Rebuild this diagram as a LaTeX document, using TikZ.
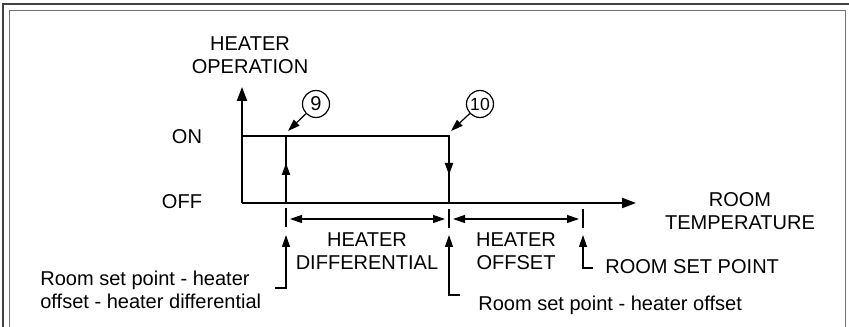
\documentclass[tikz,border=0pt]{standalone}
\usepackage{fontspec}
\setmainfont{Liberation Sans}
\usetikzlibrary{arrows.meta}

\begin{document}
\begin{tikzpicture}[x=0.02cm, y=-0.02cm,
    font=\fontsize{11.4}{13}\selectfont,
    grossa/.style={line width=0.042cm},
    fina/.style={line width=0.024cm},
    pontagrande/.style={-{Triangle[length=0.28cm,width=0.2cm]}},
    ponta/.style={-{Triangle[length=0.24cm,width=0.16cm]}},
    dupla/.style={{Triangle[length=0.24cm,width=0.16cm]}-{Triangle[length=0.24cm,width=0.16cm]}},
    circulo/.style={draw, circle, fina, minimum size=0.54cm, inner sep=0pt},
    texto/.style={inner sep=0pt}]
    \useasboundingbox (0,0) rectangle (849,327);
    % moldura dupla
    \begin{scope}
      \clip (0,0) rectangle (849,327);
      \draw[line width=0.035cm, black!75] (3,4) rectangle (853,340);
      \draw[line width=0.035cm, black!55] (9.5,10.5) rectangle (845.5,340);
    \end{scope}
    % eixos
    \coordinate (O) at (242,203);
    \coordinate (Y) at (242,87);
    \coordinate (X) at (636,203);
    \draw[grossa, pontagrande] (O) -- (Y);
    \draw[grossa, pontagrande] (O) -- (X);
    % pulso
    \coordinate (L) at (242,136);
    \coordinate (S) at (286,203);
    \coordinate (Sa) at (286,136);
    \coordinate (D) at (449,136);
    \coordinate (Da) at (449,203);
    \draw[grossa] (L) -- (D) -- (Da);
    \draw[grossa] (S) -- (Sa);
    \draw[grossa, ponta] (S) -- ++(0,-40);
    \draw[grossa, ponta] (D) -- ++(0,39);
    % numeros
    \node[circulo] (n9) at (316,104) {9};
    \node[circulo] (n10) at (480,104) {\fontsize{10}{10}\selectfont 10};
    \coordinate (p9) at (288,131);
    \coordinate (p10) at (451,131);
    \draw[fina, ponta] (n9) -- (p9);
    \draw[fina, ponta] (n10) -- (p10);
    % cotas
    \coordinate (T1) at (286,208);
    \coordinate (T1b) at (286,227);
    \coordinate (T2) at (449,209);
    \coordinate (T2b) at (449,228);
    \coordinate (T3) at (583,209);
    \coordinate (T3b) at (583,228);
    \draw[fina] (T1) -- (T1b);
    \draw[fina] (T2) -- (T2b);
    \draw[fina] (T3) -- (T3b);
    \coordinate (A1) at (290,219);
    \coordinate (A2) at (445,219);
    \coordinate (A3) at (453,219);
    \coordinate (A4) at (579,219);
    \draw[fina, dupla] (A1) -- (A2);
    \draw[fina, dupla] (A3) -- (A4);
    % textos
    \node[texto, align=center] (op) at (250,55) {HEATER\\OPERATION};
    \node[texto] (on) at (187,137) {ON};
    \node[texto] (off) at (182,202) {OFF};
    \node[texto, align=center] (tr) at (740,211) {ROOM\\TEMPERATURE};
    \node[texto, align=center] (hd) at (367,251) {HEATER\\DIFFERENTIAL};
    \node[texto, align=center] (ho) at (516,251) {HEATER\\OFFSET};
    \node[texto, anchor=west] (rsp) at (605,267) {ROOM SET POINT};
    \node[texto, anchor=west] (rho) at (478,305) {Room set point - heater offset};
    \node[texto, anchor=west, align=left] (rhd) at (40,290) {Room set point - heater\\offset - heater differential};
    % indicadores
    \coordinate (i1) at (286,235);
    \coordinate (i1c) at (286,288);
    \coordinate (i1e) at (275,288);
    \draw[fina, ponta] (i1e) -- (i1c) -- (i1);
    \coordinate (i2) at (449,235);
    \coordinate (i2c) at (449,295);
    \coordinate (i2e) at (460,295);
    \draw[fina, ponta] (i2e) -- (i2c) -- (i2);
    \coordinate (i3) at (583,235);
    \coordinate (i3c) at (583,268);
    \coordinate (i3e) at (593,268);
    \draw[fina, ponta] (i3e) -- (i3c) -- (i3);
\end{tikzpicture}
\end{document}
